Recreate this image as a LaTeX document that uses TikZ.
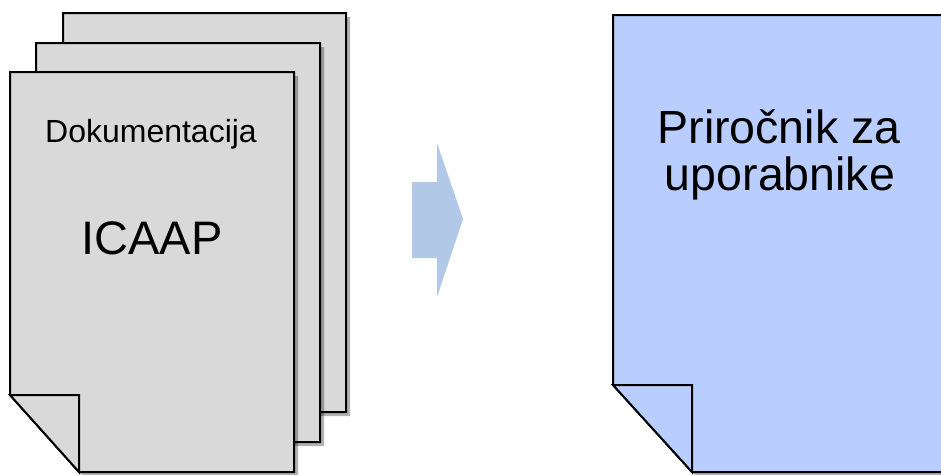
\documentclass[tikz,border=0pt]{standalone}
\usepackage{fontspec}
\setmainfont{Liberation Sans}
\usetikzlibrary{shadows}
\definecolor{pagegray}{RGB}{217,217,217}
\definecolor{pageblue}{RGB}{185,206,255}
\definecolor{arrowblue}{RGB}{177,200,230}
\tikzset{
  pageline/.style={draw=black, line width=2pt, line join=miter},
  pshadow/.style={drop shadow={shadow xshift=4pt, shadow yshift=-4pt, fill=black, opacity=0.3}},
}
\newcommand{\docpage}[7]{% left top right bottom foldx foldy fillcolor
  \path[pageline, fill=#7, pshadow] (#1,#2) -- (#3,#2) -- (#3,#4) -- (#5,#4) -- (#1,#6) -- cycle;
  \path[pageline, fill=#7] (#1,#6) -- (#5,#6) -- (#5,#4) -- cycle;
}
\begin{document}
\begin{tikzpicture}[x=1pt,y=-1pt]
\useasboundingbox (0,0) rectangle (941,474);
% stack of pages
\docpage{63}{13}{346}{412}{132}{336}{pagegray}
\docpage{36}{43}{320}{442}{105}{366}{pagegray}
\docpage{10}{72}{294}{472}{79}{395}{pagegray}
\node[font=\fontsize{32}{38}\selectfont, inner sep=0pt, anchor=base] (doc) at (151,142) {Dokumentacija};
\node[font=\fontsize{47}{56}\selectfont, inner sep=0pt, anchor=base] (icaap) at (152,254) {ICAAP};
% arrow
\fill[arrowblue] (412,182) -- (437,182) -- (437,143) -- (463,219) -- (437,297) -- (437,258) -- (412,258) -- cycle;
% right page
\docpage{613}{15}{960}{472}{692}{385}{pageblue}
\node[font=\fontsize{46.5}{47}\selectfont, inner sep=0pt, anchor=base] (l1) at (779,143) {Priročnik za};
\node[font=\fontsize{46.5}{47}\selectfont, inner sep=0pt, anchor=base] (l2) at (780,190) {uporabnike};
\end{tikzpicture}
\end{document}
